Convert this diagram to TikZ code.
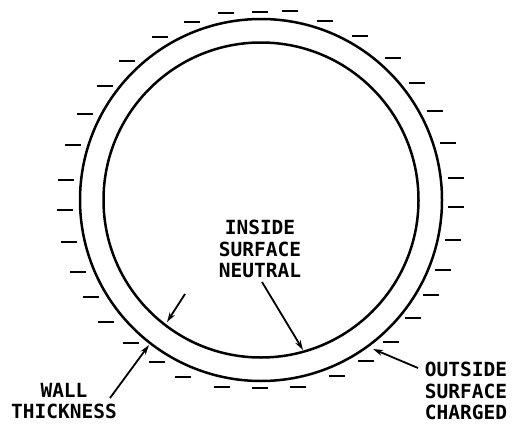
\documentclass[tikz,border=0pt]{standalone}
\usepackage{fontspec}
\newfontfamily\lblfont{DejaVu Sans Mono Bold}
\usetikzlibrary{arrows.meta}
\begin{document}
\begin{tikzpicture}[x=1pt,y=-1pt,
  wall/.style={line width=2.5pt},
  charge/.style={line width=2pt},
  lbl/.style={font=\lblfont\fontsize{19.5}{21.5}\selectfont, align=center, inner sep=0pt, anchor=north},
  ptr/.style={line width=1.8pt, -{Stealth[length=10pt,width=6pt]}}]
\useasboundingbox (0,0) rectangle (519,423);
% circles
\node[wall, draw, circle, minimum size=362pt, inner sep=0pt] (outer) at (261,200) {};
\node[wall, draw, circle, minimum size=315pt, inner sep=0pt] (inner) at (261,200) {};
% charges
\foreach \x/\y in {226/13, 260/12, 290/11, 325/21, 192/22, 160/37, 360/36, 127/61, 393/58,
  105/86, 417/83, 85/114, 435/111, 73/145, 448/143, 66/180, 456/178, 65/210, 456/207,
  69/242, 453/240, 78/272, 443/270, 91/297, 431/295, 106/322, 413/318, 131/343, 391/342,
  157/362, 366/361, 183/377, 337/376, 222/387, 260/388, 298/387}
  \draw[charge] (\x-8,\y) -- (\x+8,\y);
% labels
\node[lbl] (neutral) at (260,220) {INSIDE\\SURFACE\\NEUTRAL};
\node[lbl] (wallt) at (64,383) {WALL\\THICKNESS};
\node[lbl] (charged) at (466,362) {OUTSIDE\\SURFACE\\CHARGED};
% arrow end points
\coordinate (a1s) at (185,294);
\coordinate (a1e) at (167,322);
\coordinate (a2s) at (110,398);
\coordinate (a2e) at (149,345);
\coordinate (a3s) at (262,282);
\coordinate (a3e) at (303,350);
\coordinate (a4s) at (418,368);
\coordinate (a4e) at (373,349);
\draw[ptr] (a1s) -- (a1e);
\draw[ptr] (a2s) -- (a2e);
\draw[ptr] (a3s) -- (a3e);
\draw[ptr] (a4s) -- (a4e);
\end{tikzpicture}
\end{document}
